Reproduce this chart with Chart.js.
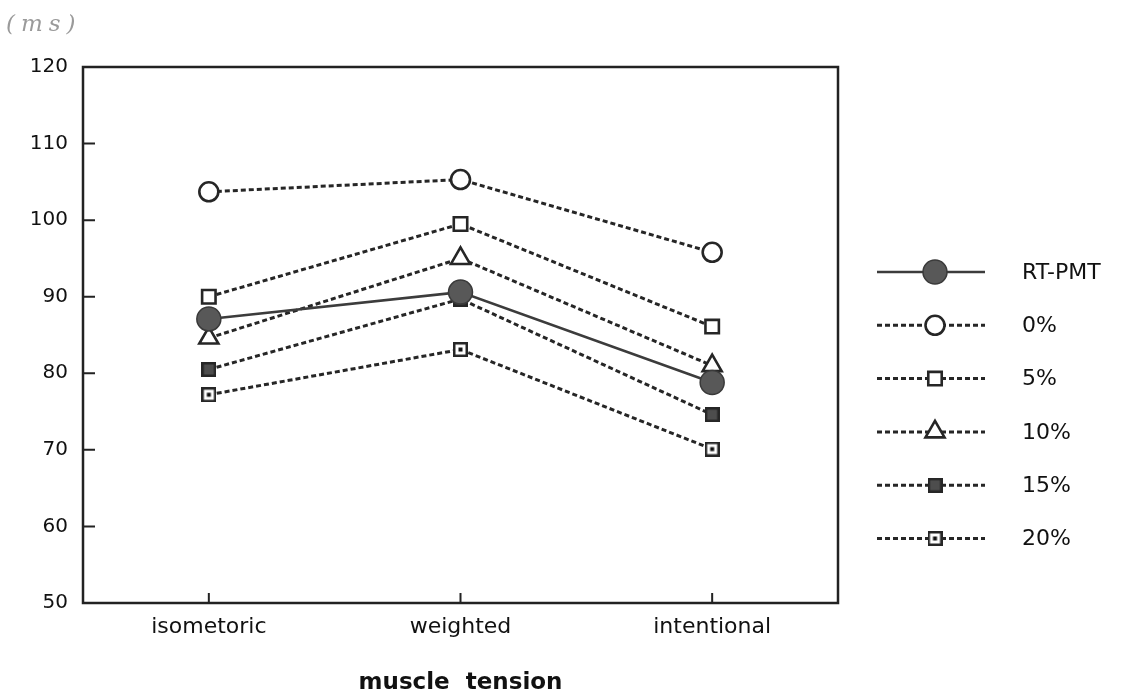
<!DOCTYPE html>
<html>
<head>
<meta charset="utf-8">
<script src="https://cdn.jsdelivr.net/npm/chart.js@4/dist/chart.umd.min.js"></script>
<style>
  html, body { margin: 0; padding: 0; background: #fff; }
  canvas { display: block; }
</style>
</head>
<body>
<canvas id="c" width="1125" height="697"></canvas>
<script>
// Reaction-time components (ms) under three muscle-tension conditions
const categories = ['isometoric', 'weighted', 'intentional'];
const seriesNames = ['RT-PMT', '0%', '5%', '10%', '15%', '20%'];
const rtPmt = [87.1, 90.6, 78.8];
const pct0  = [103.7, 105.3, 95.8];
const pct5  = [90.0, 99.5, 86.1];
const pct10 = [84.6, 95.0, 81.0];
const pct15 = [80.5, 89.7, 74.6];
const pct20 = [77.2, 83.1, 70.1];
const yMin = 50, yMax = 120, yStep = 10;
const unitLabel = '(ms)';
const xTitle = 'muscle  tension';

const INK = '#262626';
const FONT = '"DejaVu Sans", "Liberation Sans", sans-serif';

// Square markers drawn onto small canvases (solid and centre-dotted boxes)
function boxMarker(size, fill, dot) {
  const c = document.createElement('canvas');
  c.width = size; c.height = size;
  const g = c.getContext('2d');
  g.fillStyle = fill;
  g.fillRect(0, 0, size, size);
  g.strokeStyle = INK;
  g.lineWidth = 2.5;
  g.strokeRect(1.25, 1.25, size - 2.5, size - 2.5);
  if (dot) {
    g.fillStyle = '#111';
    g.fillRect(size / 2 - 2, size / 2 - 2, 4, 4);
  }
  return c;
}
const solidBox = boxMarker(15, '#4d4d4d', false);
const dottedBox = boxMarker(15, '#ffffff', true);

const dashed = [5, 3];
function dashedSeries(label, data, style, radius) {
  return {
    label, data,
    borderColor: INK, borderWidth: 3, borderDash: dashed,
    pointStyle: style, pointRadius: radius, pointHoverRadius: radius,
    pointBackgroundColor: '#ffffff', pointBorderColor: INK, pointBorderWidth: 2.6,
    fill: false, tension: 0
  };
}

const datasets = [
  {
    label: seriesNames[0], data: rtPmt,
    borderColor: '#3c3c3c', borderWidth: 2.6, borderDash: [],
    pointStyle: 'circle', pointRadius: 12, pointHoverRadius: 12,
    pointBackgroundColor: '#585858', pointBorderColor: '#3a3a3a', pointBorderWidth: 1.5,
    fill: false, tension: 0
  },
  dashedSeries(seriesNames[1], pct0, 'circle', 9.5),
  dashedSeries(seriesNames[2], pct5, 'rect', 9.5),
  dashedSeries(seriesNames[3], pct10, 'triangle', 11),
  dashedSeries(seriesNames[4], pct15, solidBox, 8),
  dashedSeries(seriesNames[5], pct20, dottedBox, 8)
];

// Frame around the plot area, inward tick marks and the unit note
const framePlugin = {
  id: 'frame',
  afterDraw(chart) {
    const { ctx, chartArea: a, scales } = chart;
    ctx.save();
    ctx.strokeStyle = '#222';
    ctx.lineWidth = 2.5;
    ctx.setLineDash([]);
    ctx.strokeRect(a.left, a.top, a.right - a.left, a.bottom - a.top);

    ctx.lineWidth = 2;
    ctx.beginPath();
    scales.y.ticks.forEach((t, i) => {
      if (t.value <= yMin || t.value >= yMax) return;
      const py = scales.y.getPixelForTick(i);
      ctx.moveTo(a.left, py);
      ctx.lineTo(a.left + 12, py);
    });
    scales.x.ticks.forEach((t, i) => {
      const px = scales.x.getPixelForTick(i);
      ctx.moveTo(px, a.bottom);
      ctx.lineTo(px, a.bottom - 10);
    });
    ctx.stroke();

    ctx.fillStyle = '#9a9a9a';
    ctx.font = 'italic 23px "DejaVu Serif", serif';
    ctx.letterSpacing = '6px';
    ctx.textAlign = 'left';
    ctx.textBaseline = 'alphabetic';
    ctx.fillText(unitLabel, 6, 31);
    ctx.restore();
  }
};

// Legend column to the right of the plot: line sample, marker, label
const sideLegend = {
  id: 'sideLegend',
  afterDraw(chart) {
    const { ctx } = chart;
    const x0 = 877, x1 = 985, mx = 935, tx = 1022, y0 = 272, dy = 53.3;
    chart.data.datasets.forEach((ds, i) => {
      const y = y0 + i * dy;
      ctx.save();
      ctx.strokeStyle = ds.borderColor;
      ctx.lineWidth = ds.borderWidth;
      ctx.setLineDash(ds.borderDash || []);
      ctx.beginPath();
      ctx.moveTo(x0, y);
      ctx.lineTo(x1, y);
      ctx.stroke();
      ctx.setLineDash([]);
      ctx.fillStyle = ds.pointBackgroundColor;
      ctx.strokeStyle = ds.pointBorderColor;
      ctx.lineWidth = ds.pointBorderWidth;
      Chart.helpers.drawPoint(ctx, {
        pointStyle: ds.pointStyle, radius: ds.pointRadius,
        borderWidth: ds.pointBorderWidth, rotation: 0
      }, mx, y);
      ctx.fillStyle = '#111';
      ctx.font = '22px ' + FONT;
      ctx.textAlign = 'left';
      ctx.textBaseline = 'middle';
      ctx.fillText(ds.label, tx, y + 1);
      ctx.restore();
    });
  }
};

new Chart(document.getElementById('c'), {
  type: 'line',
  data: { labels: categories, datasets },
  options: {
    responsive: false,
    animation: false,
    devicePixelRatio: 1,
    layout: { padding: { left: 0, right: 287, top: 67, bottom: 0 } },
    plugins: { legend: { display: false }, tooltip: { enabled: false }, title: { display: false } },
    scales: {
      x: {
        type: 'category',
        offset: true,
        grid: { display: false, drawTicks: false },
        border: { display: false },
        ticks: { color: '#111', font: { family: FONT, size: 22 }, padding: 11, maxRotation: 0 },
        title: {
          display: true, text: xTitle, color: '#111',
          font: { family: FONT, size: 23, weight: 'bold' },
          padding: { top: 0, bottom: 0 }
        },
        afterFit(s) { s.height = 94; }
      },
      y: {
        min: yMin, max: yMax,
        grid: { display: false, drawTicks: false },
        border: { display: false },
        ticks: { stepSize: yStep, color: '#111', font: { family: FONT, size: 20 }, padding: 15 },
        afterFit(s) { s.width = 83; }
      }
    }
  },
  plugins: [framePlugin, sideLegend]
});
</script>
</body>
</html>
